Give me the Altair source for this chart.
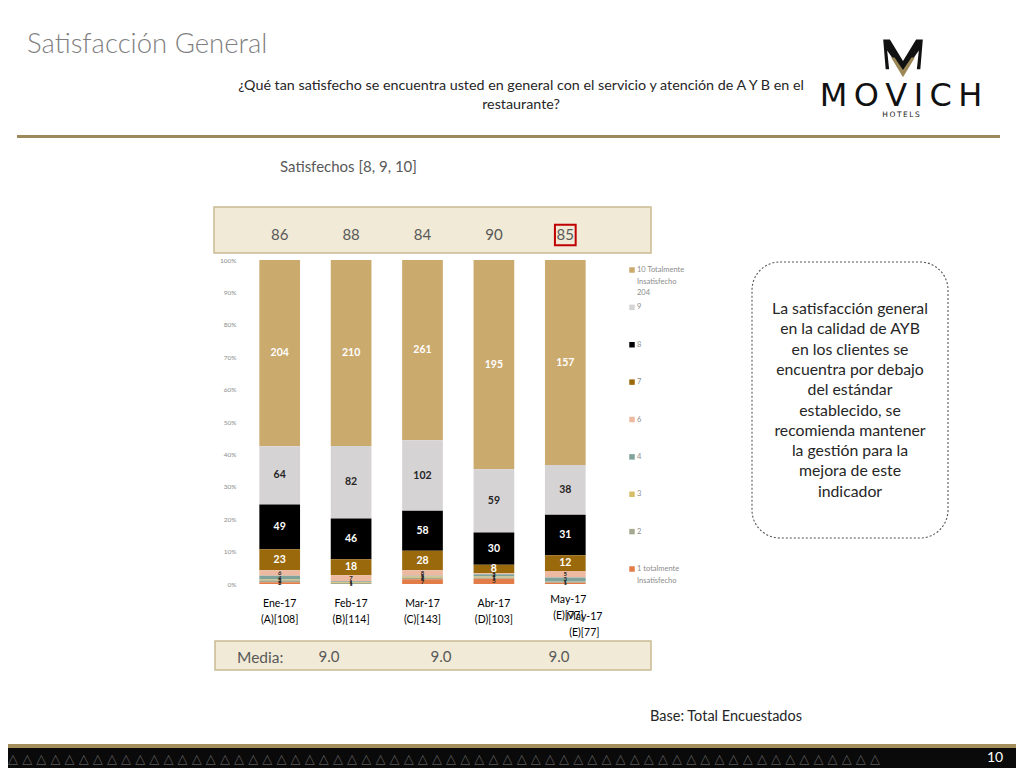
import altair as alt
import pandas as pd

# ---------------- data ----------------
meses = ["Ene-17", "Feb-17", "Mar-17", "Abr-17", "May-17"]
bases = ["(A)[108]", "(B)[114]", "(C)[143]", "(D)[103]", "(E)[77]"]
satisfechos = [86, 88, 84, 90, 85]
calificaciones = ["10", "9", "8", "7", "6", "4", "3", "2", "1"]
conteos = {
    "10": [204, 210, 261, 195, 157],
    "9": [64, 82, 102, 59, 38],
    "8": [49, 46, 58, 30, 31],
    "7": [23, 18, 28, 8, 12],
    "6": [6, 7, 8, 1, 5],
    "4": [4, 1, 1, 2, 3],
    "3": [1, 1, 2, 1, 0],
    "2": [2, 1, 2, 1, 1],
    "1": [2, 0, 7, 5, 1],
}
colores = ["#CBAA6E", "#D6D3D4", "#000000", "#9A690C", "#EDB9A0",
           "#7FA39B", "#D9BE6A", "#A4A98F", "#E27C48"]
leyenda = ["10 Totalmente\nInsatisfecho\n204", "9", "8", "7", "6", "4", "3", "2",
           "1 totalmente\nInsatisfecho"]
media = ["9.0", "9.0", "9.0"]

rows = []
for c in calificaciones:
    for m, v in zip(meses, conteos[c]):
        rows.append({"mes": m, "cal": c, "orden": int(c), "n": v})
df = pd.DataFrame(rows)
sat_df = pd.DataFrame({"mes": meses, "sat": satisfechos})
lab_df = pd.DataFrame({"mes": meses, "lab": [f"{m}\n{b}" for m, b in zip(meses, bases)]})
ley_df = pd.DataFrame({"cal": calificaciones, "etq": leyenda})
one = pd.DataFrame({"k": [0]})

W, H = 357, 324
FONT = "Lato"

xscale = alt.Scale(domain=meses, paddingInner=0.43, paddingOuter=0.215)
X = alt.X("mes:N", scale=xscale, axis=None)
cscale = alt.Scale(domain=calificaciones, range=colores)

stacked = alt.Chart(df).transform_stack(
    stack="n", groupby=["mes"], sort=[alt.SortField("orden", order="ascending")],
    offset="normalize", as_=["y0", "y1"]
).transform_calculate(mid="(datum.y0 + datum.y1) / 2")

bars = stacked.mark_bar().encode(
    x=X,
    y=alt.Y("y0:Q", scale=alt.Scale(domain=[0, 1]),
            axis=alt.Axis(format=".0%", values=[i / 10 for i in range(11)],
                          labelFontSize=6.5, labelColor="#8C8C8C", labelFont=FONT,
                          domain=False, ticks=False, grid=False, labelPadding=8,
                          labelFlush=False, title=None)),
    y2="y1:Q",
    color=alt.Color("cal:N", scale=cscale, legend=None),
)

Ymid = alt.Y("mid:Q", scale=alt.Scale(domain=[0, 1]), axis=None)
big_lab = stacked.transform_filter("datum.orden >= 7").mark_text(
    fontSize=10.5, fontWeight="bold", font=FONT
).encode(
    x=X, y=Ymid, text="n:Q",
    color=alt.condition("datum.orden == 9", alt.value("#262626"), alt.value("#FFFFFF")),
)
small_lab = stacked.transform_filter("datum.orden < 7 && datum.n > 0").mark_text(
    fontSize=6, fontWeight="bold", font=FONT, color="#262626"
).encode(x=X, y=Ymid, text="n:Q")

# ----- legend (manual, through a point scale) -----
ley_y = alt.Y("cal:N", scale=alt.Scale(type="point", domain=calificaciones,
                                        range=[10, 309], padding=0), axis=None)
ley_sym = alt.Chart(ley_df).mark_point(shape="square", filled=True, size=30, opacity=1).encode(
    x=alt.value(388), y=ley_y, color=alt.Color("cal:N", scale=cscale, legend=None))
ley_txt = alt.Chart(ley_df).mark_text(
    align="left", baseline="top", dy=-4, lineBreak="\n", lineHeight=11.5,
    fontSize=7.5, color="#8C8C8C", font=FONT
).encode(x=alt.value(393), y=ley_y, text="etq:N")


def rect(x1, x2, y1, y2, **kw):
    return alt.Chart(one).mark_rect(**kw).encode(
        x=alt.value(x1), x2=alt.value(x2), y=alt.value(y1), y2=alt.value(y2))


def txt(s, x, y, **kw):
    kw.setdefault("font", FONT)
    return alt.Chart(one).mark_text(text=s, **kw).encode(x=alt.value(x), y=alt.value(y))


BEIGE = "#F1EAD6"
BEIGE_S = "#C9BB93"

# ----- slide decorations (coordinates relative to plot origin) -----
title = txt("Satisfacción General", -217, -215, align="left", baseline="middle",
            fontSize=27.5, fontWeight=300, color="#7F7F7F")
question = txt("¿Qué tan satisfecho se encuentra usted en general con el servicio y atención de A Y B en el\nrestaurante?",
               277, -181, align="center", baseline="top", lineBreak="\n", lineHeight=19,
               fontSize=14.3, color="#262626")
header_rule = rect(-227, 756, -125, -122, color="#9D8A5C")

logo_black = alt.Chart(one).mark_point(
    shape="M-0.8,-0.75 L-0.53,-0.75 L0,0.12 L0.53,-0.75 L0.8,-0.75 L0.7,0.45 L0.56,0.45 L0.64,-0.3 L0,0.62 L-0.64,-0.3 L-0.56,0.45 L-0.7,0.45 Z",
    filled=True, size=2450, color="#111111", opacity=1).encode(x=alt.value(659), y=alt.value(-202))
logo_gold = alt.Chart(one).mark_point(
    shape="M-0.48,-0.02 L-0.34,-0.02 L0,0.48 L0.34,-0.02 L0.48,-0.02 L0,0.78 Z",
    filled=True, size=2450, color="#9C8757", opacity=1).encode(x=alt.value(659), y=alt.value(-202))
logo_txt = txt("M\u2009O\u2009V\u2009I\u2009C\u2009H", 657, -164, align="center", baseline="middle",
               fontSize=32, font="DejaVu Sans", color="#111111")
logo_sub = txt("H\u2009O\u2009T\u2009E\u2009L\u2009S", 657, -145, align="center", baseline="middle",
               fontSize=7.5, font="DejaVu Sans", color="#222222")

sat_title = txt("Satisfechos [8, 9, 10]", 36, -93, align="left", baseline="middle",
                fontSize=15, color="#595959")
top_band = rect(-30, 407, -53, -7, fill=BEIGE, stroke=BEIGE_S, strokeWidth=1.5)
sat_nums = alt.Chart(sat_df).mark_text(fontSize=15, color="#595959", font=FONT, baseline="middle").encode(
    x=X, y=alt.value(-25), text="sat:Q")
sat_box = alt.Chart(sat_df).transform_filter("datum.mes == 'May-17'").mark_point(
    shape="square", size=430, filled=False, color="#C00000", strokeWidth=2, opacity=1).encode(
    x=X, y=alt.value(-25))

xl_main = alt.Chart(lab_df).transform_filter("datum.mes != 'May-17'").mark_text(
    align="center", baseline="top", lineBreak="\n", lineHeight=16, fontSize=10.5,
    color="#000000", font=FONT).encode(x=X, y=alt.value(339), text="lab:N")
xl_may = alt.Chart(lab_df).transform_filter("datum.mes == 'May-17'").mark_text(
    align="center", baseline="top", lineBreak="\n", lineHeight=16, fontSize=10.5,
    color="#000000", font=FONT, dx=3).encode(x=X, y=alt.value(335), text="lab:N")
xl_may2 = alt.Chart(lab_df).transform_filter("datum.mes == 'May-17'").mark_text(
    align="center", baseline="top", lineBreak="\n", lineHeight=16, fontSize=10.5,
    color="#000000", font=FONT, dx=19).encode(x=X, y=alt.value(352), text="lab:N")

note_box = rect(508, 704, 2, 278, fill="#FFFFFF", fillOpacity=0, stroke="#555555",
                strokeWidth=1.1, strokeDash=[2, 2], cornerRadius=28)
note = txt("La satisfacción general\nen la calidad de AYB\nen los clientes se\nencuentra por debajo\n"
           "del estándar\nestablecido, se\nrecomienda mantener\nla gestión para la\nmejora de este\nindicador",
           606, 42, align="center", baseline="top", lineBreak="\n", lineHeight=20.3,
           fontSize=15.8, color="#262626")

media_band = rect(-29, 407, 381, 410, fill=BEIGE, stroke=BEIGE_S, strokeWidth=1.5)
media_lbl = txt("Media:", -7, 398, align="left", baseline="middle", fontSize=15.5, color="#595959")
media_vals = [txt(v, x, 397, align="center", baseline="middle", fontSize=15, color="#595959")
              for v, x in zip(media, [85, 197, 315])]

base_txt = txt("Base: Total Encuestados", 406, 457, align="left", baseline="middle",
               fontSize=14.5, color="#262626")

foot_gold = rect(-244, 780, 484, 488, color="#A38E5C")
foot_black = rect(-244, 780, 488, 510, color="#0A0A0A")
foot_pat = txt("△ " * 62, -236, 499, align="left", baseline="middle", fontSize=13,
               font="DejaVu Sans", color="#5A5A5A")
page_no = txt("10", 751, 498, align="center", baseline="middle", fontSize=14, color="#FFFFFF")

layers = [header_rule, title, question, logo_black, logo_gold, logo_txt, logo_sub,
          sat_title, top_band, sat_nums, sat_box,
          bars, big_lab, small_lab, ley_sym, ley_txt,
          xl_main, xl_may, xl_may2, note_box, note,
          media_band, media_lbl, *media_vals, base_txt,
          foot_gold, foot_black, foot_pat, page_no]

chart = alt.layer(*layers).resolve_scale(y="independent").properties(
    width=W, height=H,
    autosize=alt.AutoSizeParams(type="none"),
    padding={"left": 236, "top": 252, "right": 415, "bottom": 184},
).configure_view(stroke=None)

chart.save("out.html", embed_options={"renderer": "svg", "actions": False})
